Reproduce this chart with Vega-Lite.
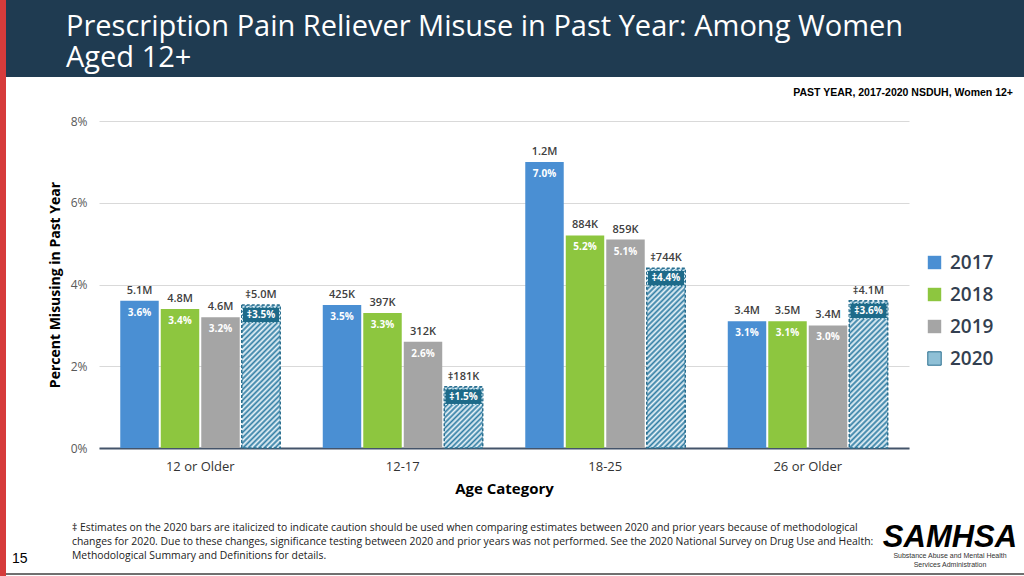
{
  "$schema": "https://vega.github.io/schema/vega-lite/v6.json",
  "padding": 0,
  "background": "white",
  "spacing": 0,
  "config": {"font": "Open Sans", "view": {"stroke": null}},
  "hconcat": [
    {
      "width": 6, "height": 576,
      "view": {"fill": "#d63b3b", "stroke": null},
      "data": {"values": [{}]},
      "mark": {"type": "text"},
      "encoding": {"text": {"value": ""}}
    },
    {
      "spacing": 0,
      "vconcat": [
        {
          "width": 1018, "height": 77,
          "view": {"fill": "#1f3b51", "stroke": null},
          "data": {"values": [{}]},
          "mark": {"type": "text"},
          "encoding": {"text": {"value": ""}},
          "title": {
            "text": ["Prescription Pain Reliever Misuse in Past Year: Among Women", "Aged 12+"],
            "anchor": "start", "frame": "group", "orient": "top", "offset": -73, "dx": 60,
            "font": "Open Sans", "fontSize": 29, "fontWeight": "normal", "lineHeight": 31, "color": "#ffffff"
          }
        },
        {
          "spacing": 0,
          "hconcat": [
            {
              "width": 42, "height": 1,
              "data": {"values": [{}]},
              "mark": {"type": "text"},
              "encoding": {"text": {"value": ""}}
            },
            {
              "width": 810, "height": 327,
              "view": {"stroke": null},
              "title": {
                "text": ["", "PAST YEAR, 2017-2020  NSDUH, Women 12+"],
                "anchor": "end", "frame": "group", "dx": 104, "offset": 17, "lineHeight": 10,
                "font": "Liberation Sans Narrow, Liberation Sans", "fontSize": 10.5, "fontWeight": "bold", "color": "#000000"
              },
              "data": {"values": [
                {"age": "12 or Older", "year": "2017", "pct": 3.6, "count": "5.1M", "plabel": "3.6%"},
                {"age": "12 or Older", "year": "2018", "pct": 3.4, "count": "4.8M", "plabel": "3.4%"},
                {"age": "12 or Older", "year": "2019", "pct": 3.2, "count": "4.6M", "plabel": "3.2%"},
                {"age": "12 or Older", "year": "2020", "pct": 3.5, "count": "‡5.0M", "plabel": "‡3.5%"},
                {"age": "12-17", "year": "2017", "pct": 3.5, "count": "425K", "plabel": "3.5%"},
                {"age": "12-17", "year": "2018", "pct": 3.3, "count": "397K", "plabel": "3.3%"},
                {"age": "12-17", "year": "2019", "pct": 2.6, "count": "312K", "plabel": "2.6%"},
                {"age": "12-17", "year": "2020", "pct": 1.5, "count": "‡181K", "plabel": "‡1.5%"},
                {"age": "18-25", "year": "2017", "pct": 7.0, "count": "1.2M", "plabel": "7.0%"},
                {"age": "18-25", "year": "2018", "pct": 5.2, "count": "884K", "plabel": "5.2%"},
                {"age": "18-25", "year": "2019", "pct": 5.1, "count": "859K", "plabel": "5.1%"},
                {"age": "18-25", "year": "2020", "pct": 4.4, "count": "‡744K", "plabel": "‡4.4%"},
                {"age": "26 or Older", "year": "2017", "pct": 3.1, "count": "3.4M", "plabel": "3.1%"},
                {"age": "26 or Older", "year": "2018", "pct": 3.1, "count": "3.5M", "plabel": "3.1%"},
                {"age": "26 or Older", "year": "2019", "pct": 3.0, "count": "3.4M", "plabel": "3.0%"},
                {"age": "26 or Older", "year": "2020", "pct": 3.6, "count": "‡4.1M", "plabel": "‡3.6%"}
              ]},
              "encoding": {
                "x": {
                  "field": "age", "type": "nominal",
                  "sort": ["12 or Older", "12-17", "18-25", "26 or Older"],
                  "scale": {"paddingInner": 0.21, "paddingOuter": 0.105},
                  "axis": {
                    "title": "Age Category", "labelAngle": 0,
                    "domainColor": "#44546a", "domainWidth": 2, "ticks": false,
                    "labelFontSize": 13, "labelColor": "#333333", "labelPadding": 12,
                    "titleFontSize": 15, "titleFontWeight": "bold", "titleColor": "#000000", "titlePadding": 8
                  }
                },
                "xOffset": {"field": "year", "type": "nominal", "scale": {"paddingInner": 0.05}},
                "y": {
                  "field": "pct", "type": "quantitative",
                  "scale": {"domain": [0, 8]},
                  "axis": {
                    "title": "Percent Misusing in Past Year",
                    "values": [0, 2, 4, 6, 8], "labelExpr": "datum.value + '%'",
                    "grid": true, "gridColor": "#d9d9d9", "domain": false, "ticks": false,
                    "labelFontSize": 12, "labelColor": "#595959", "labelPadding": 12,
                    "titleFontSize": 14, "titleFontWeight": "bold", "titleColor": "#000000", "titlePadding": 8
                  }
                }
              },
              "layer": [
                {
                  "transform": [{"filter": "datum.year !== '2020'"}],
                  "mark": {"type": "bar"},
                  "encoding": {
                    "color": {
                      "field": "year", "type": "nominal",
                      "scale": {"domain": ["2017", "2018", "2019", "2020"], "range": ["#4a8fd3", "#8dc63f", "#a5a5a5", "#8fc0d6"]},
                      "legend": {
                        "title": null, "orient": "none", "legendX": 925, "legendY": 253,
                        "symbolType": "square", "symbolSize": 180,
                        "labelFontSize": 19, "labelFont": "Open Sans", "labelFontWeight": 600, "labelColor": "#333f50",
                        "rowPadding": 12, "labelOffset": 6,
                        "encode": {
                          "symbols": {
                            "update": {
                              "fill": [
                                {"test": "datum.value === '2020'", "value": {"gradient": "linear", "x1": 0, "y1": 0, "x2": 1, "y2": 1, "stops": [
                                  {"offset": 0, "color": "#2f7ca3"}, {"offset": 0.1, "color": "#eef7fb"},
                                  {"offset": 0.2, "color": "#2f7ca3"}, {"offset": 0.3, "color": "#eef7fb"},
                                  {"offset": 0.4, "color": "#2f7ca3"}, {"offset": 0.5, "color": "#eef7fb"},
                                  {"offset": 0.6, "color": "#2f7ca3"}, {"offset": 0.7, "color": "#eef7fb"},
                                  {"offset": 0.8, "color": "#2f7ca3"}, {"offset": 0.9, "color": "#eef7fb"},
                                  {"offset": 1, "color": "#2f7ca3"}
                                ]}},
                                {"scale": "color", "field": "value"}
                              ],
                              "stroke": [
                                {"test": "datum.value === '2020'", "value": "#2a6f8f"},
                                {"value": "transparent"}
                              ],
                              "strokeWidth": {"value": 1}
                            }
                          }
                        }
                      }
                    }
                  }
                },
                {
                  "transform": [{"filter": "datum.year === '2020'"}],
                  "mark": {"type": "bar", "stroke": "#2a6f8f", "strokeWidth": 1.5, "strokeDash": [3, 2]},
                  "encoding": {
                    "fill": {
                      "condition": [
                        {"test": "datum.age === '12 or Older'", "value": {"gradient": "linear", "x1": 0, "y1": 0, "x2": 0.3185, "y2": 1.1834, "stops": [
                          {"offset": 0, "color": "#2f7ca3"}, {"offset": 0.0147, "color": "#eef7fb"},
                          {"offset": 0.0294, "color": "#2f7ca3"}, {"offset": 0.0441, "color": "#eef7fb"},
                          {"offset": 0.0588, "color": "#2f7ca3"}, {"offset": 0.0735, "color": "#eef7fb"},
                          {"offset": 0.0882, "color": "#2f7ca3"}, {"offset": 0.1029, "color": "#eef7fb"},
                          {"offset": 0.1176, "color": "#2f7ca3"}, {"offset": 0.1324, "color": "#eef7fb"},
                          {"offset": 0.1471, "color": "#2f7ca3"}, {"offset": 0.1618, "color": "#eef7fb"},
                          {"offset": 0.1765, "color": "#2f7ca3"}, {"offset": 0.1912, "color": "#eef7fb"},
                          {"offset": 0.2059, "color": "#2f7ca3"}, {"offset": 0.2206, "color": "#eef7fb"},
                          {"offset": 0.2353, "color": "#2f7ca3"}, {"offset": 0.25, "color": "#eef7fb"},
                          {"offset": 0.2647, "color": "#2f7ca3"}, {"offset": 0.2794, "color": "#eef7fb"},
                          {"offset": 0.2941, "color": "#2f7ca3"}, {"offset": 0.3088, "color": "#eef7fb"},
                          {"offset": 0.3235, "color": "#2f7ca3"}, {"offset": 0.3382, "color": "#eef7fb"},
                          {"offset": 0.3529, "color": "#2f7ca3"}, {"offset": 0.3676, "color": "#eef7fb"},
                          {"offset": 0.3824, "color": "#2f7ca3"}, {"offset": 0.3971, "color": "#eef7fb"},
                          {"offset": 0.4118, "color": "#2f7ca3"}, {"offset": 0.4265, "color": "#eef7fb"},
                          {"offset": 0.4412, "color": "#2f7ca3"}, {"offset": 0.4559, "color": "#eef7fb"},
                          {"offset": 0.4706, "color": "#2f7ca3"}, {"offset": 0.4853, "color": "#eef7fb"},
                          {"offset": 0.5, "color": "#2f7ca3"}, {"offset": 0.5147, "color": "#eef7fb"},
                          {"offset": 0.5294, "color": "#2f7ca3"}, {"offset": 0.5441, "color": "#eef7fb"},
                          {"offset": 0.5588, "color": "#2f7ca3"}, {"offset": 0.5735, "color": "#eef7fb"},
                          {"offset": 0.5882, "color": "#2f7ca3"}, {"offset": 0.6029, "color": "#eef7fb"},
                          {"offset": 0.6176, "color": "#2f7ca3"}, {"offset": 0.6324, "color": "#eef7fb"},
                          {"offset": 0.6471, "color": "#2f7ca3"}, {"offset": 0.6618, "color": "#eef7fb"},
                          {"offset": 0.6765, "color": "#2f7ca3"}, {"offset": 0.6912, "color": "#eef7fb"},
                          {"offset": 0.7059, "color": "#2f7ca3"}, {"offset": 0.7206, "color": "#eef7fb"},
                          {"offset": 0.7353, "color": "#2f7ca3"}, {"offset": 0.75, "color": "#eef7fb"},
                          {"offset": 0.7647, "color": "#2f7ca3"}, {"offset": 0.7794, "color": "#eef7fb"},
                          {"offset": 0.7941, "color": "#2f7ca3"}, {"offset": 0.8088, "color": "#eef7fb"},
                          {"offset": 0.8235, "color": "#2f7ca3"}, {"offset": 0.8382, "color": "#eef7fb"},
                          {"offset": 0.8529, "color": "#2f7ca3"}, {"offset": 0.8676, "color": "#eef7fb"},
                          {"offset": 0.8824, "color": "#2f7ca3"}, {"offset": 0.8971, "color": "#eef7fb"},
                          {"offset": 0.9118, "color": "#2f7ca3"}, {"offset": 0.9265, "color": "#eef7fb"},
                          {"offset": 0.9412, "color": "#2f7ca3"}, {"offset": 0.9559, "color": "#eef7fb"},
                          {"offset": 0.9706, "color": "#2f7ca3"}, {"offset": 0.9853, "color": "#eef7fb"},
                          {"offset": 1, "color": "#2f7ca3"}
                        ]}},
                        {"test": "datum.age === '12-17'", "value": {"gradient": "linear", "x1": 0, "y1": 0, "x2": 0.7332, "y2": 1.1676, "stops": [
                          {"offset": 0, "color": "#2f7ca3"}, {"offset": 0.0263, "color": "#eef7fb"},
                          {"offset": 0.0526, "color": "#2f7ca3"}, {"offset": 0.0789, "color": "#eef7fb"},
                          {"offset": 0.1053, "color": "#2f7ca3"}, {"offset": 0.1316, "color": "#eef7fb"},
                          {"offset": 0.1579, "color": "#2f7ca3"}, {"offset": 0.1842, "color": "#eef7fb"},
                          {"offset": 0.2105, "color": "#2f7ca3"}, {"offset": 0.2368, "color": "#eef7fb"},
                          {"offset": 0.2632, "color": "#2f7ca3"}, {"offset": 0.2895, "color": "#eef7fb"},
                          {"offset": 0.3158, "color": "#2f7ca3"}, {"offset": 0.3421, "color": "#eef7fb"},
                          {"offset": 0.3684, "color": "#2f7ca3"}, {"offset": 0.3947, "color": "#eef7fb"},
                          {"offset": 0.4211, "color": "#2f7ca3"}, {"offset": 0.4474, "color": "#eef7fb"},
                          {"offset": 0.4737, "color": "#2f7ca3"}, {"offset": 0.5, "color": "#eef7fb"},
                          {"offset": 0.5263, "color": "#2f7ca3"}, {"offset": 0.5526, "color": "#eef7fb"},
                          {"offset": 0.5789, "color": "#2f7ca3"}, {"offset": 0.6053, "color": "#eef7fb"},
                          {"offset": 0.6316, "color": "#2f7ca3"}, {"offset": 0.6579, "color": "#eef7fb"},
                          {"offset": 0.6842, "color": "#2f7ca3"}, {"offset": 0.7105, "color": "#eef7fb"},
                          {"offset": 0.7368, "color": "#2f7ca3"}, {"offset": 0.7632, "color": "#eef7fb"},
                          {"offset": 0.7895, "color": "#2f7ca3"}, {"offset": 0.8158, "color": "#eef7fb"},
                          {"offset": 0.8421, "color": "#2f7ca3"}, {"offset": 0.8684, "color": "#eef7fb"},
                          {"offset": 0.8947, "color": "#2f7ca3"}, {"offset": 0.9211, "color": "#eef7fb"},
                          {"offset": 0.9474, "color": "#2f7ca3"}, {"offset": 0.9737, "color": "#eef7fb"},
                          {"offset": 1, "color": "#2f7ca3"}
                        ]}},
                        {"test": "datum.age === '18-25'", "value": {"gradient": "linear", "x1": 0, "y1": 0, "x2": 0.2485, "y2": 1.1609, "stops": [
                          {"offset": 0, "color": "#2f7ca3"}, {"offset": 0.0122, "color": "#eef7fb"},
                          {"offset": 0.0244, "color": "#2f7ca3"}, {"offset": 0.0366, "color": "#eef7fb"},
                          {"offset": 0.0488, "color": "#2f7ca3"}, {"offset": 0.061, "color": "#eef7fb"},
                          {"offset": 0.0732, "color": "#2f7ca3"}, {"offset": 0.0854, "color": "#eef7fb"},
                          {"offset": 0.0976, "color": "#2f7ca3"}, {"offset": 0.1098, "color": "#eef7fb"},
                          {"offset": 0.122, "color": "#2f7ca3"}, {"offset": 0.1341, "color": "#eef7fb"},
                          {"offset": 0.1463, "color": "#2f7ca3"}, {"offset": 0.1585, "color": "#eef7fb"},
                          {"offset": 0.1707, "color": "#2f7ca3"}, {"offset": 0.1829, "color": "#eef7fb"},
                          {"offset": 0.1951, "color": "#2f7ca3"}, {"offset": 0.2073, "color": "#eef7fb"},
                          {"offset": 0.2195, "color": "#2f7ca3"}, {"offset": 0.2317, "color": "#eef7fb"},
                          {"offset": 0.2439, "color": "#2f7ca3"}, {"offset": 0.2561, "color": "#eef7fb"},
                          {"offset": 0.2683, "color": "#2f7ca3"}, {"offset": 0.2805, "color": "#eef7fb"},
                          {"offset": 0.2927, "color": "#2f7ca3"}, {"offset": 0.3049, "color": "#eef7fb"},
                          {"offset": 0.3171, "color": "#2f7ca3"}, {"offset": 0.3293, "color": "#eef7fb"},
                          {"offset": 0.3415, "color": "#2f7ca3"}, {"offset": 0.3537, "color": "#eef7fb"},
                          {"offset": 0.3659, "color": "#2f7ca3"}, {"offset": 0.378, "color": "#eef7fb"},
                          {"offset": 0.3902, "color": "#2f7ca3"}, {"offset": 0.4024, "color": "#eef7fb"},
                          {"offset": 0.4146, "color": "#2f7ca3"}, {"offset": 0.4268, "color": "#eef7fb"},
                          {"offset": 0.439, "color": "#2f7ca3"}, {"offset": 0.4512, "color": "#eef7fb"},
                          {"offset": 0.4634, "color": "#2f7ca3"}, {"offset": 0.4756, "color": "#eef7fb"},
                          {"offset": 0.4878, "color": "#2f7ca3"}, {"offset": 0.5, "color": "#eef7fb"},
                          {"offset": 0.5122, "color": "#2f7ca3"}, {"offset": 0.5244, "color": "#eef7fb"},
                          {"offset": 0.5366, "color": "#2f7ca3"}, {"offset": 0.5488, "color": "#eef7fb"},
                          {"offset": 0.561, "color": "#2f7ca3"}, {"offset": 0.5732, "color": "#eef7fb"},
                          {"offset": 0.5854, "color": "#2f7ca3"}, {"offset": 0.5976, "color": "#eef7fb"},
                          {"offset": 0.6098, "color": "#2f7ca3"}, {"offset": 0.622, "color": "#eef7fb"},
                          {"offset": 0.6341, "color": "#2f7ca3"}, {"offset": 0.6463, "color": "#eef7fb"},
                          {"offset": 0.6585, "color": "#2f7ca3"}, {"offset": 0.6707, "color": "#eef7fb"},
                          {"offset": 0.6829, "color": "#2f7ca3"}, {"offset": 0.6951, "color": "#eef7fb"},
                          {"offset": 0.7073, "color": "#2f7ca3"}, {"offset": 0.7195, "color": "#eef7fb"},
                          {"offset": 0.7317, "color": "#2f7ca3"}, {"offset": 0.7439, "color": "#eef7fb"},
                          {"offset": 0.7561, "color": "#2f7ca3"}, {"offset": 0.7683, "color": "#eef7fb"},
                          {"offset": 0.7805, "color": "#2f7ca3"}, {"offset": 0.7927, "color": "#eef7fb"},
                          {"offset": 0.8049, "color": "#2f7ca3"}, {"offset": 0.8171, "color": "#eef7fb"},
                          {"offset": 0.8293, "color": "#2f7ca3"}, {"offset": 0.8415, "color": "#eef7fb"},
                          {"offset": 0.8537, "color": "#2f7ca3"}, {"offset": 0.8659, "color": "#eef7fb"},
                          {"offset": 0.878, "color": "#2f7ca3"}, {"offset": 0.8902, "color": "#eef7fb"},
                          {"offset": 0.9024, "color": "#2f7ca3"}, {"offset": 0.9146, "color": "#eef7fb"},
                          {"offset": 0.9268, "color": "#2f7ca3"}, {"offset": 0.939, "color": "#eef7fb"},
                          {"offset": 0.9512, "color": "#2f7ca3"}, {"offset": 0.9634, "color": "#eef7fb"},
                          {"offset": 0.9756, "color": "#2f7ca3"}, {"offset": 0.9878, "color": "#eef7fb"},
                          {"offset": 1, "color": "#2f7ca3"}
                        ]}}
                      ],
                      "value": {"gradient": "linear", "x1": 0, "y1": 0, "x2": 0.3089, "y2": 1.1808, "stops": [
                        {"offset": 0, "color": "#2f7ca3"}, {"offset": 0.0147, "color": "#eef7fb"},
                        {"offset": 0.0294, "color": "#2f7ca3"}, {"offset": 0.0441, "color": "#eef7fb"},
                        {"offset": 0.0588, "color": "#2f7ca3"}, {"offset": 0.0735, "color": "#eef7fb"},
                        {"offset": 0.0882, "color": "#2f7ca3"}, {"offset": 0.1029, "color": "#eef7fb"},
                        {"offset": 0.1176, "color": "#2f7ca3"}, {"offset": 0.1324, "color": "#eef7fb"},
                        {"offset": 0.1471, "color": "#2f7ca3"}, {"offset": 0.1618, "color": "#eef7fb"},
                        {"offset": 0.1765, "color": "#2f7ca3"}, {"offset": 0.1912, "color": "#eef7fb"},
                        {"offset": 0.2059, "color": "#2f7ca3"}, {"offset": 0.2206, "color": "#eef7fb"},
                        {"offset": 0.2353, "color": "#2f7ca3"}, {"offset": 0.25, "color": "#eef7fb"},
                        {"offset": 0.2647, "color": "#2f7ca3"}, {"offset": 0.2794, "color": "#eef7fb"},
                        {"offset": 0.2941, "color": "#2f7ca3"}, {"offset": 0.3088, "color": "#eef7fb"},
                        {"offset": 0.3235, "color": "#2f7ca3"}, {"offset": 0.3382, "color": "#eef7fb"},
                        {"offset": 0.3529, "color": "#2f7ca3"}, {"offset": 0.3676, "color": "#eef7fb"},
                        {"offset": 0.3824, "color": "#2f7ca3"}, {"offset": 0.3971, "color": "#eef7fb"},
                        {"offset": 0.4118, "color": "#2f7ca3"}, {"offset": 0.4265, "color": "#eef7fb"},
                        {"offset": 0.4412, "color": "#2f7ca3"}, {"offset": 0.4559, "color": "#eef7fb"},
                        {"offset": 0.4706, "color": "#2f7ca3"}, {"offset": 0.4853, "color": "#eef7fb"},
                        {"offset": 0.5, "color": "#2f7ca3"}, {"offset": 0.5147, "color": "#eef7fb"},
                        {"offset": 0.5294, "color": "#2f7ca3"}, {"offset": 0.5441, "color": "#eef7fb"},
                        {"offset": 0.5588, "color": "#2f7ca3"}, {"offset": 0.5735, "color": "#eef7fb"},
                        {"offset": 0.5882, "color": "#2f7ca3"}, {"offset": 0.6029, "color": "#eef7fb"},
                        {"offset": 0.6176, "color": "#2f7ca3"}, {"offset": 0.6324, "color": "#eef7fb"},
                        {"offset": 0.6471, "color": "#2f7ca3"}, {"offset": 0.6618, "color": "#eef7fb"},
                        {"offset": 0.6765, "color": "#2f7ca3"}, {"offset": 0.6912, "color": "#eef7fb"},
                        {"offset": 0.7059, "color": "#2f7ca3"}, {"offset": 0.7206, "color": "#eef7fb"},
                        {"offset": 0.7353, "color": "#2f7ca3"}, {"offset": 0.75, "color": "#eef7fb"},
                        {"offset": 0.7647, "color": "#2f7ca3"}, {"offset": 0.7794, "color": "#eef7fb"},
                        {"offset": 0.7941, "color": "#2f7ca3"}, {"offset": 0.8088, "color": "#eef7fb"},
                        {"offset": 0.8235, "color": "#2f7ca3"}, {"offset": 0.8382, "color": "#eef7fb"},
                        {"offset": 0.8529, "color": "#2f7ca3"}, {"offset": 0.8676, "color": "#eef7fb"},
                        {"offset": 0.8824, "color": "#2f7ca3"}, {"offset": 0.8971, "color": "#eef7fb"},
                        {"offset": 0.9118, "color": "#2f7ca3"}, {"offset": 0.9265, "color": "#eef7fb"},
                        {"offset": 0.9412, "color": "#2f7ca3"}, {"offset": 0.9559, "color": "#eef7fb"},
                        {"offset": 0.9706, "color": "#2f7ca3"}, {"offset": 0.9853, "color": "#eef7fb"},
                        {"offset": 1, "color": "#2f7ca3"}
                      ]}
                    }
                  }
                },
                {
                  "mark": {"type": "text", "baseline": "bottom", "dy": -5, "fontSize": 11, "fontWeight": 600, "color": "#404040"},
                  "encoding": {"text": {"field": "count"}}
                },
                {
                  "transform": [{"filter": "datum.year !== '2020'"}],
                  "mark": {"type": "text", "baseline": "middle", "dy": 12, "fontSize": 10, "fontWeight": "bold", "color": "#ffffff"},
                  "encoding": {"text": {"field": "plabel"}}
                },
                {
                  "transform": [{"filter": "datum.year === '2020'"}],
                  "mark": {"type": "point", "shape": "M-1,-0.42H1V0.42H-1Z", "size": 1369, "filled": true, "fill": "#1d6a89", "opacity": 1, "stroke": "#d8eef6", "strokeWidth": 1, "strokeDash": [2, 1.5], "yOffset": 10}
                },
                {
                  "transform": [{"filter": "datum.year === '2020'"}],
                  "mark": {"type": "text", "baseline": "middle", "dy": 10, "fontSize": 10, "fontWeight": "bold", "color": "#ffffff"},
                  "encoding": {"text": {"field": "plabel"}}
                }
              ]
            }
          ]
        },
        {
          "spacing": 0,
          "hconcat": [
            {
              "width": 66, "height": 72,
              "data": {"values": [{}]},
              "mark": {"type": "text"},
              "encoding": {"text": {"value": ""}},
              "title": {"text": "15", "anchor": "start", "frame": "group", "dx": 6, "offset": -70, "font": "Liberation Sans Narrow, Liberation Sans", "fontSize": 14, "fontWeight": "normal", "color": "#000000"}
            },
            {
              "width": 800, "height": 72,
              "data": {"values": [{}]},
              "mark": {"type": "text"},
              "encoding": {"text": {"value": ""}},
              "title": {
                "text": [
                  "‡ Estimates on the 2020 bars are italicized to indicate caution should be used when comparing estimates between 2020 and prior years because of methodological",
                  "\u00a0\u00a0changes for 2020. Due to these changes, significance testing between 2020 and prior years was not performed. See the 2020 National Survey on Drug Use and Health:",
                  "\u00a0\u00a0Methodological Summary and Definitions for details."
                ],
                "anchor": "start", "frame": "group", "offset": -65, "fontSize": 10.4, "lineHeight": 14, "fontWeight": "normal", "color": "#222222"
              }
            },
            {
              "width": 152, "height": 72,
              "data": {"values": [{}]},
              "mark": {"type": "text"},
              "encoding": {"text": {"value": ""}},
              "title": {
                "text": "SAMHSA",
                "subtitle": ["Substance Abuse and Mental Health", "Services Administration"],
                "anchor": "middle", "frame": "group", "offset": -73,
                "font": "Liberation Sans", "fontSize": 31, "fontStyle": "italic", "fontWeight": 900, "color": "#000000",
                "subtitleFont": "Liberation Sans", "subtitleFontSize": 7, "subtitleColor": "#333333", "subtitleLineHeight": 9, "subtitlePadding": -2
              }
            }
          ]
        },
        {
          "width": 1018, "height": 2,
          "view": {"fill": "#707070", "stroke": null},
          "data": {"values": [{}]},
          "mark": {"type": "text"},
          "encoding": {"text": {"value": ""}}
        }
      ]
    }
  ]
}
